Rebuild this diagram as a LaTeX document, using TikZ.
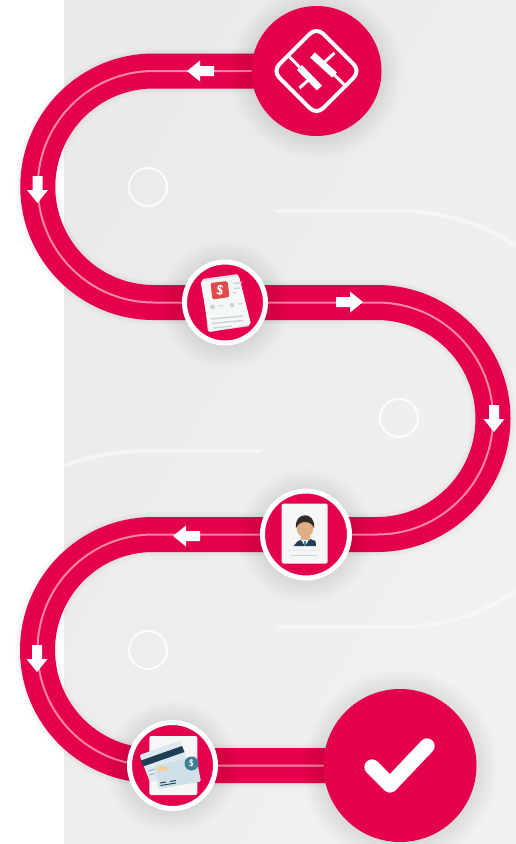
\documentclass[tikz,border=0pt]{standalone}
\usetikzlibrary{backgrounds,calc}
\definecolor{brand}{HTML}{E4004B}
\definecolor{seam}{HTML}{FB86A8}
\definecolor{panelA}{HTML}{EAEAEA}
\definecolor{panelB}{HTML}{F1F1F1}
\definecolor{sheet}{HTML}{F5F6F6}
\definecolor{mutedline}{HTML}{CBD3D8}
\definecolor{stamp}{HTML}{DD4B4B}
\definecolor{navy}{HTML}{1F3F57}
\definecolor{skin}{HTML}{E0AE85}
\definecolor{hair}{HTML}{33282A}
\definecolor{cardblue}{HTML}{CFE0E8}
\definecolor{teal}{HTML}{3F7E96}
\definecolor{chip}{HTML}{F2CF94}
\tikzset{
  track/.style   = {draw=brand, line width=26.25pt},
  seamline/.style= {draw=seam, line width=1.5pt},
  hub/.style     = {circle, fill=brand, inner sep=0pt, outer sep=0pt},
  stop/.style    = {circle, fill=brand, draw=white, line width=3.75pt, inner sep=0pt, outer sep=0pt},
  dot/.style     = {circle, draw=white, draw opacity=0.85, line width=1.5pt, minimum size=28.5pt, inner sep=0pt},
  trace/.style   = {draw=white, draw opacity=0.45, line width=3pt, line cap=round},
  softshade/.style = {fill=black, fill opacity=0.008},
  logoline/.style  = {draw=white, line width=2.2pt},
  logobar/.style   = {draw=white, line width=5.2pt},
  flowmark/.pic  = {\fill[white] (-13.5,-5) -- (0.5,-5) -- (0.5,-10.5) -- (13.5,0) -- (0.5,10.5) -- (0.5,5) -- (-13.5,5) -- cycle;},
}
\newcommand{\trackpath}{(start.center) -- (bendA) arc[start angle=-90, end angle=-270, radius=115.75]
  -- (doc.center) -- (bendB) arc[start angle=-90, end angle=90, radius=116]
  -- (agent.center) -- (bendC) arc[start angle=-90, end angle=-270, radius=115.5]
  -- (card.center) -- (finish.center)}
\begin{document}
\begin{tikzpicture}[x=0.75pt, y=-0.75pt]
  \useasboundingbox (0,0) rectangle (516,844);
  \node[hub, minimum size=97.5pt] (start) at (316.5,71) {};
  \node[stop, minimum size=60.75pt] (doc) at (225,302.5) {};
  \node[stop, minimum size=65.25pt] (agent) at (306,534.5) {};
  \node[stop, minimum size=64.5pt] (card) at (172.5,765.5) {};
  \node[hub, minimum size=114.75pt] (finish) at (400,765.5) {};
  \coordinate (bendA) at (153.5,71);
  \coordinate (bendB) at (377,302.5);
  \coordinate (bendC) at (153,534.5);
  \begin{scope}[on background layer]
    \fill[white] (0,0) rectangle (516,844);
    \shade[left color=panelA, right color=panelB, shading angle=60] (64,0) rectangle (516,844);
    \draw[trace] (277,211) -- (400,211) .. controls (450,211) and (490,228) .. (516,246);
    \draw[trace] (66,465) .. controls (95,455) and (115,451) .. (150,451) -- (259,451);
    \draw[trace] (280,627) -- (400,627) .. controls (450,627) and (490,610) .. (516,590);
    \node[dot] (dotA) at (148,187) {};
    \node[dot] (dotB) at (399,418) {};
    \node[dot] (dotC) at (148,650) {};
    \foreach \w in {28,30,32,34}
      \draw[draw=black, draw opacity=0.01, line width=\w pt] \trackpath;
    \draw[track] \trackpath;
    \draw[seamline] \trackpath;
    \foreach \n/\r in {start/65, doc/43, agent/46, card/45.5, finish/76.5}
      \foreach \k in {1,3,...,21}
        \fill[softshade] ($(\n.center)+(0,2)$) circle[radius=\r+\k];
  \end{scope}
  % direction marks
  \pic[rotate=180] at (200.5,71) {flowmark};
  \pic[rotate=-90] at (37.5,189.5) {flowmark};
  \pic at (349.5,302) {flowmark};
  \pic[rotate=-90] at (494,418.5) {flowmark};
  \pic[rotate=180] at (186.5,536) {flowmark};
  \pic[rotate=-90] at (37,658.5) {flowmark};
  % logo
  \begin{scope}[shift={(start.center)}]
    \draw[draw=white, line width=3pt, rounded corners=7pt, rotate=45] (-31,-31) rectangle (31,31);
    \draw[logoline] (-27,-14) -- (-17,-4);
    \draw[logobar] (-17,-3.5) -- (3,17);
    \draw[logoline] (28,14) -- (18,4);
    \draw[logobar] (18,4) -- (-4,-16);
    \draw[logoline] (18,-18) -- (7,-8);
    \draw[logoline] (-17,17) -- (-7,8);
  \end{scope}
  % invoice sheets
  \fill[sheet!80!gray, rounded corners=1pt] (202,279) -- (238,274) -- (250,326) -- (208,332) -- cycle;
  \fill[sheet, rounded corners=1pt] (200.5,281.5) -- (239,276) -- (251,324) -- (209.5,332) -- cycle;
  \fill[stamp, rounded corners=1.5pt] (210.5,283) -- (227.5,281) -- (229.5,297) -- (212.5,299.5) -- cycle;
  \node[font=\sffamily\bfseries\normalsize, text=white, inner sep=0pt, rotate=-7] (docsign) at (220,290) {\$};
  \draw[mutedline, line width=1pt] (233,283.5) -- (242,282.5) (234,288.5) -- (240,288) (233,293) -- (236,292.5);
  \fill[mutedline] (212.5,307) circle[radius=2.4] (232,305) circle[radius=2.4];
  \draw[mutedline, line width=0.8pt] (218,306) -- (223,305.5) (238,304) -- (243,303.5);
  \draw[mutedline, line width=1pt] (211,319) -- (243,316) (212,323.5) -- (243,320.5) (213,328) -- (232,326);
  % agent card
  \fill[sheet, rounded corners=1.5pt] (281.7,503.5) rectangle (327.7,563.5);
  \fill[navy] (293.5,546) -- (298,541) -- (304,539) -- (310,539) -- (315.5,541) -- (316,546) -- cycle;
  \fill[white!80!cardblue] (300.5,539) -- (309.5,539) -- (305,546) -- cycle;
  \fill[teal] (304,541) rectangle (306,546);
  \fill[skin] (300.5,532) rectangle (309.5,540);
  \fill[skin] (305,527.5) ellipse[x radius=8.5, y radius=10];
  \fill[hair] (296,528) .. controls (294,511) and (316,511) .. (314,528)
     .. controls (312,521) and (300,519) .. (296,528) -- cycle;
  \draw[draw=mutedline, draw opacity=0.4, line width=0.8pt] (288,550.5) -- (321,550.5);
  \draw[draw=mutedline, line width=1.4pt] (291,555.5) -- (317,555.5);
  % payment cards
  \fill[sheet, rounded corners=1.5pt] (149.3,736) rectangle (197.3,795);
  \fill[cardblue!70!white, rounded corners=1pt] (139.5,755) -- (180,740.5) -- (192,772) -- (150,782) -- cycle;
  \fill[navy] (141,760.5) -- (182,746) -- (184.5,752) -- (143,766.5) -- cycle;
  \fill[cardblue, rounded corners=1pt] (155,766) -- (196,756) -- (201,781.5) -- (158.5,789) -- cycle;
  \fill[chip, rounded corners=1pt] (157.5,766) rectangle (167,771);
  \draw[navy, line width=0.7pt] (160,783) -- (166,782) (170,781.5) -- (176,780.5);
  \draw[navy, line width=0.7pt] (160.5,785.5) -- (176,783);
  \draw[teal!60!white, line width=0.6pt] (148,771) -- (155,769) (149,775) -- (155,773.5);
  \node[circle, fill=teal, minimum size=10.5pt, inner sep=0pt, font=\sffamily\bfseries\scriptsize, text=white] (cardsign) at (191.5,763.5) {\$};
  % check mark
  \draw[draw=white, line width=11.5pt, line cap=round, line join=round] (372,767) -- (390,785) -- (427,746);
\end{tikzpicture}
\end{document}
